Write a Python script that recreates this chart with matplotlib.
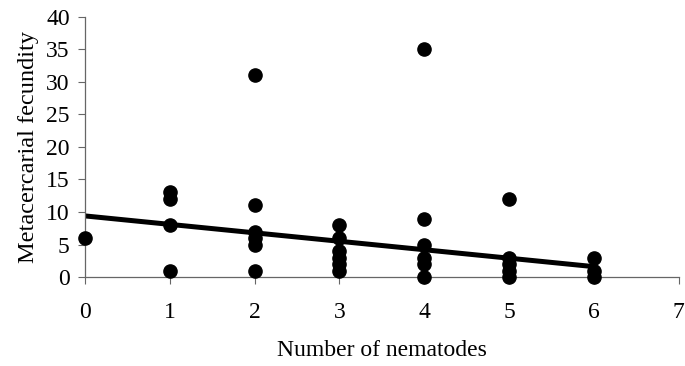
import matplotlib
matplotlib.use('Agg')
from matplotlib import pyplot as plt
from matplotlib import ticker as mticker

# number of nematodes per host and the metacercarial fecundity
nematodes = [0,
             1, 1, 1, 1,
             2, 2, 2, 2, 2, 2,
             3, 3, 3, 3, 3, 3,
             4, 4, 4, 4, 4, 4,
             5, 5, 5, 5, 5,
             6, 6, 6]
fecundity = [6,
             13, 12, 8, 1,
             31, 11, 7, 6, 5, 1,
             8, 6, 4, 3, 2, 1,
             35, 9, 5, 3, 2, 0,
             12, 3, 2, 1, 0,
             3, 1, 0]

# trend line as drawn in the figure
line_x = [0, 6]
line_intercept = 9.4
line_slope = -1.3

x_ticks = [0, 1, 2, 3, 4, 5, 6, 7]
y_ticks = [0, 5, 10, 15, 20, 25, 30, 35, 40]

plt.rcParams['font.family'] = ['Liberation Serif', 'DejaVu Serif']

fig = plt.figure(figsize=(6.85, 3.66), dpi=100)
ax = fig.add_axes([0.124, 0.243, 0.867, 0.711])

ax.plot(nematodes, fecundity, 'o', color='black', markersize=9.5, clip_on=False, zorder=3)
line_y = [line_intercept + line_slope * x for x in line_x]
ax.plot(line_x, line_y, color='black', linewidth=3.6, solid_capstyle='butt', zorder=2)

ax.set_xlim(0, 7)
ax.set_ylim(0, 40)
ax.xaxis.set_major_locator(mticker.FixedLocator(x_ticks))
ax.yaxis.set_major_locator(mticker.FixedLocator(y_ticks))

for side in ('top', 'right'):
    ax.spines[side].set_visible(False)
for side in ('left', 'bottom'):
    ax.spines[side].set_color('#666666')
    ax.spines[side].set_linewidth(0.9)

ax.tick_params(axis='x', direction='out', length=5, width=0.8, color='#666666',
               labelsize=17, pad=13)
ax.tick_params(axis='y', direction='out', length=5, width=0.8, color='#666666',
               labelsize=17, pad=6)

ax.set_xlabel("Number of nematodes", fontsize=17, labelpad=12)
ax.set_ylabel("Metacercarial fecundity", fontsize=17.5, labelpad=5)

plt.savefig("out.png", dpi=100)
plt.close(fig)
